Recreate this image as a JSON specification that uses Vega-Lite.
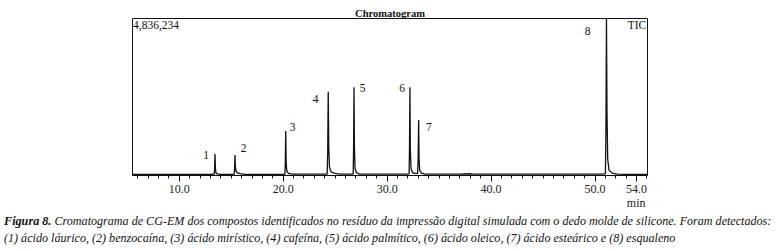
{
  "$schema": "https://vega.github.io/schema/vega-lite/v6.json",
  "width": 515,
  "height": 157,
  "autosize": {"type": "none"},
  "padding": {"left": 132, "top": 18, "right": 131, "bottom": 76},
  "background": "white",
  "config": {
    "font": "Liberation Serif, Times New Roman, Times, serif",
    "view": {"stroke": "#111", "strokeWidth": 1}
  },
  "title": {
    "text": "Figura 8.",
    "subtitle": "(1) ácido láurico, (2) benzocaína, (3) ácido mirístico, (4) cafeína, (5) ácido palmítico, (6) ácido oleico, (7) ácido esteárico e (8) esqualeno",
    "orient": "bottom",
    "anchor": "start",
    "frame": "group",
    "dx": -128,
    "dy": -12,
    "offset": 0,
    "font": "Liberation Serif, Times New Roman, Times, serif",
    "fontSize": 12.2,
    "fontStyle": "italic",
    "fontWeight": "bold",
    "color": "#111",
    "subtitleFont": "Liberation Serif, Times New Roman, Times, serif",
    "subtitleFontSize": 12.1,
    "subtitleFontStyle": "italic",
    "subtitleFontWeight": "normal",
    "subtitleColor": "#111",
    "subtitlePadding": 5,
    "limit": 0
  },
  "datasets": {
    "trace": [
      {"t": 5.5, "i": 0.4}, {"t": 8, "i": 0.4}, {"t": 11, "i": 0.4}, {"t": 13.3, "i": 0.4},
      {"t": 13.4, "i": 0.5}, {"t": 13.45, "i": 4}, {"t": 13.49, "i": 13.4}, {"t": 13.53, "i": 4}, {"t": 13.58, "i": 1.2}, {"t": 13.7, "i": 0.7}, {"t": 14.0, "i": 0.4},
      {"t": 15.2, "i": 0.4},
      {"t": 15.33, "i": 0.6}, {"t": 15.37, "i": 4}, {"t": 15.41, "i": 12.7}, {"t": 15.45, "i": 5}, {"t": 15.52, "i": 2.2}, {"t": 15.7, "i": 1.2}, {"t": 16.0, "i": 0.7}, {"t": 16.4, "i": 0.4},
      {"t": 20.1, "i": 0.4},
      {"t": 20.21, "i": 0.6}, {"t": 20.25, "i": 8}, {"t": 20.29, "i": 28}, {"t": 20.33, "i": 9}, {"t": 20.39, "i": 2.5}, {"t": 20.55, "i": 1}, {"t": 20.9, "i": 0.5},
      {"t": 24.2, "i": 0.5},
      {"t": 24.28, "i": 0.8}, {"t": 24.33, "i": 15}, {"t": 24.38, "i": 53.1}, {"t": 24.43, "i": 18}, {"t": 24.5, "i": 5}, {"t": 24.65, "i": 2}, {"t": 25.0, "i": 1}, {"t": 25.5, "i": 0.5},
      {"t": 26.7, "i": 0.5},
      {"t": 26.78, "i": 0.8}, {"t": 26.82, "i": 17}, {"t": 26.86, "i": 55.9}, {"t": 26.9, "i": 18}, {"t": 26.96, "i": 4}, {"t": 27.1, "i": 1.5}, {"t": 27.4, "i": 0.6},
      {"t": 32.05, "i": 0.5},
      {"t": 32.16, "i": 0.8}, {"t": 32.2, "i": 17}, {"t": 32.24, "i": 55.9}, {"t": 32.28, "i": 16}, {"t": 32.35, "i": 4}, {"t": 32.5, "i": 1.5}, {"t": 32.7, "i": 1.0},
      {"t": 32.98, "i": 1.0}, {"t": 33.03, "i": 10}, {"t": 33.08, "i": 35}, {"t": 33.12, "i": 10}, {"t": 33.18, "i": 3}, {"t": 33.35, "i": 1.2}, {"t": 33.7, "i": 0.6},
      {"t": 35, "i": 0.5}, {"t": 37, "i": 0.6}, {"t": 38, "i": 0.8}, {"t": 38.3, "i": 0.5}, {"t": 40, "i": 0.5}, {"t": 45, "i": 0.5}, {"t": 50.9, "i": 0.5},
      {"t": 51.05, "i": 1}, {"t": 51.1, "i": 30}, {"t": 51.15, "i": 99.4}, {"t": 51.2, "i": 40}, {"t": 51.27, "i": 10}, {"t": 51.4, "i": 3}, {"t": 51.7, "i": 1.2}, {"t": 52.2, "i": 0.6}, {"t": 53, "i": 0.4}, {"t": 55.05, "i": 0.4}
    ],
    "peaks": [
      {"t": 12.63, "i": 10.4, "label": "1"},
      {"t": 16.25, "i": 14.5, "label": "2"},
      {"t": 20.96, "i": 28.0, "label": "3"},
      {"t": 23.17, "i": 45.9, "label": "4"},
      {"t": 27.69, "i": 52.7, "label": "5"},
      {"t": 31.5, "i": 52.7, "label": "6"},
      {"t": 34.07, "i": 28.2, "label": "7"},
      {"t": 49.33, "i": 89.0, "label": "8"}
    ],
    "notes": [
      {"t": 5.6, "i": 93, "label": "4,836,234", "side": "left"},
      {"t": 54.98, "i": 92.8, "label": "TIC", "side": "right"}
    ]
  },
  "layer": [
    {
      "data": {"name": "trace"},
      "mark": {"type": "line", "color": "#111", "strokeWidth": 1.3, "interpolate": "linear"},
      "encoding": {
        "x": {
          "field": "t", "type": "quantitative",
          "scale": {"domain": [5.5, 55.05], "nice": false, "zero": false},
          "axis": {
            "orient": "bottom",
            "values": [10, 20, 30, 40, 50, 54],
            "format": ".1f",
            "tickSize": 6,
            "tickColor": "#111",
            "tickWidth": 1,
            "domain": false,
            "grid": false,
            "labelFont": "Liberation Serif, Times New Roman, Times, serif",
            "labelFontSize": 12,
            "labelColor": "#222",
            "labelPadding": 2,
            "labelFlush": false,
            "labelOverlap": false,
            "title": "Cromatograma de CG-EM dos compostos identificados no resíduo da impressão digital simulada com o dedo molde de silicone. Foram detectados:",
            "titleFont": "Liberation Serif, Times New Roman, Times, serif",
            "titleFontSize": 12.1,
            "titleFontStyle": "italic",
            "titleFontWeight": "normal",
            "titleColor": "#111",
            "titleAlign": "left",
            "titleBaseline": "alphabetic",
            "titleX": -78,
            "titleY": 49.5,
            "titleLimit": 0
          }
        },
        "y": {
          "field": "i", "type": "quantitative",
          "scale": {"domain": [0, 100], "nice": false},
          "axis": {
            "orient": "left",
            "domain": false, "ticks": false, "labels": false, "grid": false,
            "title": "Chromatogram",
            "titleAngle": 0,
            "titleX": 257.5,
            "titleY": -2,
            "titleAlign": "center",
            "titleBaseline": "alphabetic",
            "titleFont": "Liberation Serif, Times New Roman, Times, serif",
            "titleFontSize": 10.5,
            "titleFontWeight": "bold",
            "titleColor": "#111"
          }
        }
      }
    },
    {
      "data": {"name": "peaks"},
      "mark": {"type": "text", "font": "Liberation Serif, Times New Roman, Times, serif", "fontSize": 11.5, "color": "#111", "baseline": "alphabetic", "align": "center"},
      "encoding": {
        "x": {
          "field": "t", "type": "quantitative",
          "axis": {
            "orient": "top",
            "offset": -157,
            "values": [6,7,8,9,10,11,12,13,14,15,16,17,18,19,20,21,22,23,24,25,26,27,28,29,30,31,32,33,34,35,36,37,38,39,40,41,42,43,44,45,46,47,48,49,50,51,52,53,54,55],
            "tickSize": -3,
            "tickColor": "#111",
            "tickWidth": 1,
            "labels": false,
            "domain": false,
            "grid": false,
            "title": null
          }
        },
        "y": {
          "field": "i", "type": "quantitative",
          "axis": {
            "orient": "right",
            "domain": false, "ticks": false, "labels": false, "grid": false,
            "title": "min",
            "titleAngle": 0,
            "titleX": -2,
            "titleY": 188,
            "titleAlign": "right",
            "titleBaseline": "alphabetic",
            "titleFont": "Liberation Serif, Times New Roman, Times, serif",
            "titleFontSize": 12,
            "titleFontWeight": "normal",
            "titleColor": "#222"
          }
        },
        "text": {"field": "label"}
      }
    },
    {
      "data": {"name": "notes"},
      "transform": [{"filter": "datum.side === 'left'"}],
      "mark": {"type": "text", "font": "Liberation Serif, Times New Roman, Times, serif", "fontSize": 11.5, "color": "#111", "baseline": "alphabetic", "align": "left"},
      "encoding": {
        "x": {"field": "t", "type": "quantitative", "axis": null},
        "y": {"field": "i", "type": "quantitative", "axis": null},
        "text": {"field": "label"}
      }
    },
    {
      "data": {"name": "notes"},
      "transform": [{"filter": "datum.side === 'right'"}],
      "mark": {"type": "text", "font": "Liberation Serif, Times New Roman, Times, serif", "fontSize": 11.5, "color": "#111", "baseline": "alphabetic", "align": "right"},
      "encoding": {
        "x": {"field": "t", "type": "quantitative", "axis": null},
        "y": {"field": "i", "type": "quantitative", "axis": null},
        "text": {"field": "label"}
      }
    }
  ]
}
